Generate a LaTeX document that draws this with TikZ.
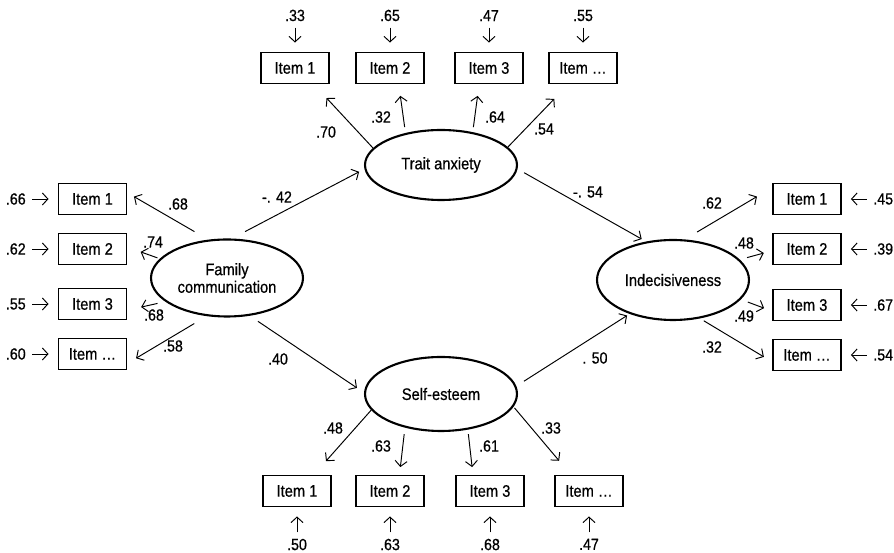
\documentclass[tikz,border=0pt]{standalone}
\usepackage{fontspec}
\setmainfont{Liberation Sans}[FakeStretch=0.88, FakeBold=0.6]
\usepackage{tikz}
\usetikzlibrary{positioning,arrows.meta,shapes.geometric}
\tikzset{
  latent/.style={ellipse, draw, line width=1.2pt, minimum width=3.04cm,
    minimum height=1.5cm, inner sep=0pt, align=center,
    font=\fontsize{9.5}{10}\selectfont},
  item/.style={rectangle, draw, line width=1.1pt, minimum width=1.36cm,
    minimum height=0.62cm, inner sep=0pt, font=\fontsize{9.5}{10}\selectfont},
  coef/.style={inner sep=0pt, font=\fontsize{9.2}{10}\selectfont},
  err/.style={inner sep=0pt, font=\fontsize{9.2}{10}\selectfont},
  arrow/.style={-{Straight Barb[length=1.1mm,width=2.4mm]}, line width=0.55pt},
  earrow/.style={arrow, shorten <=0.12cm, shorten >=0.18cm}
}

\begin{document}
\begin{tikzpicture}[x=0.02cm, y=-0.02cm]
  \useasboundingbox (0,0) rectangle (894,553);
  % latent variables
  \node[latent, minimum height=1.54cm] (fc) at (227,278) {Family\\communication};
  \node[latent, minimum height=1.4cm] (ta) at (441,165) {Trait anxiety};
  \node[latent, minimum height=1.48cm] (se) at (441,394) {Self-esteem};
  \node[latent, minimum height=1.6cm] (ind) at (673,280) {Indecisiveness};

  % indicators
  \node[item] (t1) at (295,68) {Item 1};
  \node[item] (t2) at (390,68) {Item 2};
  \node[item] (t3) at (489,68) {Item 3};
  \node[item] (t4) at (583,68) {Item \dots};
  \node[item] (b1) at (297,491) {Item 1};
  \node[item] (b2) at (390,491) {Item 2};
  \node[item] (b3) at (490,491) {Item 3};
  \node[item] (b4) at (589,491) {Item \dots};
  \node[item] (l1) at (92.5,199) {Item 1};
  \node[item] (l2) at (92.5,249) {Item 2};
  \node[item] (l3) at (92.5,304) {Item 3};
  \node[item] (l4) at (92.5,354) {Item \dots};
  \node[item] (r1) at (807,199) {Item 1};
  \node[item] (r2) at (807,249) {Item 2};
  \node[item] (r3) at (807,305) {Item 3};
  \node[item] (r4) at (807,355) {Item \dots};

  % error terms
  \node[err, above=0.6cm of t1] (et1) {.33};
  \node[err, above=0.6cm of t2] (et2) {.65};
  \node[err, above=0.6cm of t3] (et3) {.47};
  \node[err, above=0.6cm of t4] (et4) {.55};
  \node[err, below=0.62cm of b1] (eb1) {.50};
  \node[err, below=0.62cm of b2] (eb2) {.63};
  \node[err, below=0.62cm of b3] (eb3) {.68};
  \node[err, below=0.62cm of b4] (eb4) {.47};
  \node[err, left=0.63cm of l1] (el1) {.66};
  \node[err, left=0.63cm of l2] (el2) {.62};
  \node[err, left=0.63cm of l3] (el3) {.55};
  \node[err, left=0.63cm of l4] (el4) {.60};
  \node[err, right=0.62cm of r1] (er1) {.45};
  \node[err, right=0.62cm of r2] (er2) {.39};
  \node[err, right=0.62cm of r3] (er3) {.67};
  \node[err, right=0.62cm of r4] (er4) {.54};
  \draw[earrow] (et1) -- (t1);
  \draw[earrow] (et2) -- (t2);
  \draw[earrow] (et3) -- (t3);
  \draw[earrow] (et4) -- (t4);
  \draw[earrow] (eb1) -- (b1);
  \draw[earrow] (eb2) -- (b2);
  \draw[earrow] (eb3) -- (b3);
  \draw[earrow] (eb4) -- (b4);
  \draw[earrow] (el1) -- (l1);
  \draw[earrow] (el2) -- (l2);
  \draw[earrow] (el3) -- (l3);
  \draw[earrow] (el4) -- (l4);
  \draw[earrow] (er1) -- (r1);
  \draw[earrow] (er2) -- (r2);
  \draw[earrow] (er3) -- (r3);
  \draw[earrow] (er4) -- (r4);

  % structural paths
  \draw[arrow, shorten <=0.3cm, shorten >=0.12cm] (fc.83) -- (ta.183);
  \draw[arrow, shorten <=0.2cm, shorten >=0.17cm] (fc.-59) -- (se.179);
  \draw[arrow, shorten <=0.15cm, shorten >=0.1cm] (ta.-3) -- (ind.125);
  \draw[arrow, shorten <=0.18cm, shorten >=0.06cm] (se.6) -- (ind.218);
  \node[coef] (p1) at (277,197) {-. 42};
  \node[coef] (p2) at (278,359) {.40};
  \node[coef] (p3) at (588,192) {-. 54};
  \node[coef] (p4) at (595,358) {. 50};

  % loadings
  \draw[arrow, shorten >=0.37cm] (ta.166) -- (t1.-41);
  \draw[arrow, shorten <=0.12cm, shorten >=0.23cm] (ta.138) -- (t2.-62);
  \draw[arrow, shorten <=0.1cm, shorten >=0.23cm] (ta.46) -- (t3.-121);
  \draw[arrow, shorten >=0.4cm] (ta.15) -- (t4.-132);
  \draw[arrow, shorten <=0.32cm, shorten >=0.15cm] (fc.116) -- (l1.10);
  \draw[arrow, shorten <=0.05cm, shorten >=0.28cm] (fc.164) -- (l2.3);
  \draw[arrow, shorten <=0.16cm, shorten >=0.28cm] (fc.201) -- (l3.-10);
  \draw[arrow, shorten <=0.29cm, shorten >=0.2cm] (fc.242) -- (l4.-15);
  \draw[arrow, shorten <=0.29cm, shorten >=0.35cm] (ind.74) -- (r1.162);
  \draw[arrow, shorten <=0.15cm, shorten >=0.17cm] (ind.17) -- (r2.183);
  \draw[arrow, shorten <=0.15cm, shorten >=0.17cm] (ind.-16) -- (r3.190);
  \draw[arrow, shorten <=0.09cm, shorten >=0.19cm] (ind.-55) -- (r4.191);
  \draw[arrow, shorten >=0.36cm] (se.193) -- (b1.44);
  \draw[arrow, shorten <=0.13cm, shorten >=0.15cm] (se.223) -- (b2.60);
  \draw[arrow, shorten <=0.09cm, shorten >=0.15cm] (se.-53) -- (b3.136);
  \draw[arrow, shorten <=0.03cm, shorten >=0.36cm] (se.-10) -- (b4.138);
  \node[coef] (kt1) at (326,132) {.70};
  \node[coef] (kt2) at (381,117) {.32};
  \node[coef] (kt3) at (495,117) {.64};
  \node[coef] (kt4) at (544,129) {.54};
  \node[coef] (kl1) at (178,204) {.68};
  \node[coef] (kl2) at (153,242) {.74};
  \node[coef] (kl3) at (154,315) {.68};
  \node[coef] (kl4) at (173,346) {.58};
  \node[coef] (kr1) at (712,203) {.62};
  \node[coef] (kr2) at (744,243) {.48};
  \node[coef] (kr3) at (744,316) {.49};
  \node[coef] (kr4) at (712,347) {.32};
  \node[coef] (kb1) at (333,428) {.48};
  \node[coef] (kb2) at (381,446) {.63};
  \node[coef] (kb3) at (489,446) {.61};
  \node[coef] (kb4) at (551,428) {.33};
\end{tikzpicture}
\end{document}
